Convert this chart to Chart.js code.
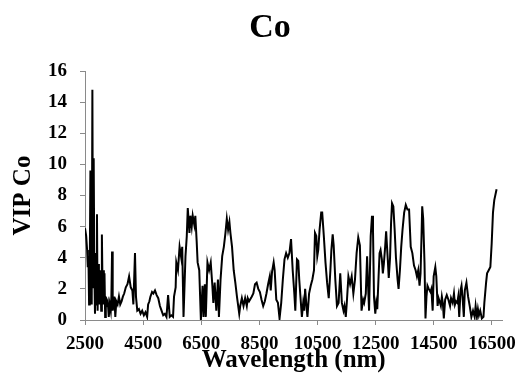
<!DOCTYPE html>
<html><head><meta charset="utf-8">
<script src="https://cdn.jsdelivr.net/npm/chart.js@4/dist/chart.umd.min.js"></script>
<style>html,body{margin:0;padding:0;background:#fff}#wrap{width:524px;height:390px}</style>
</head><body><div id="wrap"><canvas id="c"></canvas></div>
<script>
const wavelengths = [2500,2540,2573,2596,2618,2641,2663,2686,2709,2731,2754,2776,2799,2821,2844,2867,2889,2912,2934,2957,2979,3002,3025,3058,3081,3103,3126,3149,3171,3194,3216,3250,3284,3318,3352,3386,3408,3431,3453,3487,3510,3543,3577,3622,3668,3712,3758,3803,3848,3904,3961,4017,4074,4130,4164,4220,4254,4299,4355,4412,4468,4525,4581,4638,4672,4716,4750,4807,4852,4908,4965,5021,5078,5134,5190,5247,5303,5359,5416,5472,5529,5563,5619,5641,5698,5754,5811,5845,5890,5957,6002,6036,6093,6127,6172,6206,6262,6296,6341,6375,6431,6487,6544,6578,6623,6657,6713,6770,6826,6882,6916,6961,7018,7074,7108,7164,7221,7277,7333,7379,7424,7469,7503,7559,7616,7672,7728,7807,7841,7897,7954,8010,8067,8100,8145,8236,8292,8349,8405,8462,8518,8574,8631,8687,8743,8800,8856,8890,8935,8991,9025,9082,9138,9194,9251,9307,9364,9420,9477,9533,9589,9646,9702,9736,9793,9838,9871,9928,9962,10007,10041,10074,10120,10153,10210,10266,10323,10379,10413,10458,10492,10526,10571,10627,10661,10717,10774,10830,10886,10943,10977,11022,11056,11112,11169,11225,11282,11338,11394,11428,11473,11507,11563,11620,11676,11733,11789,11845,11902,11958,12015,12071,12105,12161,12206,12240,12274,12330,12375,12409,12443,12488,12522,12556,12601,12635,12669,12714,12748,12782,12827,12861,12917,12951,12996,13030,13064,13109,13154,13199,13256,13289,13335,13380,13425,13481,13537,13594,13650,13707,13763,13820,13876,13921,13966,14011,14045,14079,14102,14136,14181,14215,14249,14283,14327,14384,14418,14462,14496,14553,14587,14632,14665,14699,14744,14778,14812,14846,14891,14947,15004,15060,15094,15150,15195,15229,15263,15309,15342,15376,15421,15455,15489,15534,15568,15624,15681,15737,15794,15850,15906,15940,15985,16019,16053,16098,16154,16210,16240,16300,16334,16390,16447,16492,16537,16582,16661];
const vipCo = [5.9,5.4,4.5,3.4,4.1,1.0,3.0,9.6,2.8,1.0,14.8,2.1,10.4,3.2,0.4,4.3,1.0,6.8,0.6,3.6,2.8,1.0,3.2,0.6,5.5,2.1,3.2,1.0,3.0,0.2,1.5,1.0,1.2,0.2,1.0,0.6,1.5,4.4,0.6,1.0,1.5,0.2,1.2,1.0,1.5,1.0,1.2,1.5,1.7,2.1,2.3,2.8,2.1,1.9,1.0,4.3,1.5,0.6,0.7,0.4,0.6,0.3,0.5,0.2,1.0,1.2,1.5,1.8,1.7,1.9,1.6,1.4,0.9,0.6,0.3,0.4,0.2,1.6,0.2,0.3,0.2,1.5,2.1,3.7,3.2,4.7,4.0,4.7,0.2,4.1,5.4,7.2,5.6,6.7,6.0,6.7,6.1,6.7,5.1,3.7,3.2,0.0,2.2,0.2,2.3,0.2,3.7,3.2,3.7,2.2,1.1,2.4,0.6,2.6,0.2,2.6,4.1,4.7,5.6,6.5,5.8,6.3,5.6,4.7,3.2,2.4,1.5,0.4,0.9,1.4,0.9,1.4,0.9,1.4,1.2,1.5,1.7,2.3,2.4,2.0,1.8,1.3,0.9,1.2,1.7,2.3,2.8,1.9,3.1,3.7,3.2,1.3,1.1,0.1,1.1,2.6,3.9,4.3,4.0,4.3,5.2,3.2,1.7,0.6,3.9,3.8,2.6,1.1,0.2,1.1,0.6,2.0,0.9,0.2,1.7,2.2,2.6,3.2,5.6,5.4,4.1,4.5,5.8,6.9,6.9,5.4,3.7,2.4,1.4,3.2,4.5,5.5,4.8,2.6,0.9,1.1,3.0,1.1,0.6,0.9,0.2,1.1,2.8,2.3,2.8,1.7,2.6,4.3,5.3,4.8,0.6,1.3,1.1,1.7,4.1,2.2,0.6,5.4,6.7,5.8,1.5,0.4,1.1,0.7,2.8,4.3,4.5,3.9,3.0,3.6,4.7,5.7,3.9,2.7,4.0,6.2,7.5,7.3,5.8,4.0,2.6,2.0,3.2,4.7,5.8,6.9,7.4,7.1,7.1,4.7,4.3,3.5,3.2,2.8,3.2,2.2,3.0,5.4,7.3,6.5,3.7,0.1,1.5,2.2,2.0,1.8,2.0,0.6,2.8,3.4,2.8,0.9,1.4,1.2,0.9,1.5,1.1,0.1,1.3,1.6,1.3,0.9,1.4,1.1,1.7,1.0,1.2,1.1,1.5,0.2,1.9,2.2,1.5,0.2,1.9,2.4,1.5,0.9,0.2,0.6,0.2,0.9,0.2,0.7,0.3,0.6,0.1,0.2,1.1,2.4,3.0,3.2,3.4,4.9,6.9,7.7,8.4];
const xTicks = [2500,4500,6500,8500,10500,12500,14500,16500];
const yTicks = [0,2,4,6,8,10,12,14,16];
const chartTitle = 'Co';
const xTitle = 'Wavelength (nm)';
const yTitle = 'VIP Co';

const FONT = "'Liberation Serif','Times New Roman',serif";
const axisGray = '#8a8a8a';

const titleShift = {
  id: 'titleShift',
  afterLayout(chart) { if (chart.titleBlock) { chart.titleBlock.left += 30; } }
};

new Chart(document.getElementById('c'), {
  type: 'line',
  data: {
    datasets: [{
      data: wavelengths.map((w, i) => ({x: w, y: vipCo[i]})),
      borderColor: '#000',
      borderWidth: 2,
      pointRadius: 0,
      tension: 0,
      fill: false
    }]
  },
  plugins: [titleShift],
  options: {
    responsive: true,
    maintainAspectRatio: false,
    animation: false,
    layout: {padding: {left: 0, right: 14, top: 0, bottom: 0}},
    plugins: {
      legend: {display: false},
      tooltip: {enabled: false},
      title: {
        display: true,
        text: chartTitle,
        color: '#000',
        font: {family: FONT, size: 34, weight: 'bold', lineHeight: 1.2},
        padding: {top: 8, bottom: 22.2}
      }
    },
    scales: {
      x: {
        type: 'linear',
        min: 2500,
        max: 16860,
        afterBuildTicks: axis => { axis.ticks = xTicks.map(v => ({value: v})); },
        afterFit: axis => { axis.height = 70; },
        grid: {display: true, drawOnChartArea: false, drawTicks: true, tickLength: 5, color: axisGray},
        border: {display: true, color: axisGray, width: 1},
        ticks: {
          color: '#000',
          maxRotation: 0,
          autoSkip: false,
          padding: 8,
          font: {family: FONT, size: 19, weight: 'bold'},
          callback: v => String(v)
        },
        title: {
          display: true,
          text: xTitle,
          color: '#000',
          font: {family: FONT, size: 25, weight: 'bold', lineHeight: 1.2},
          padding: {top: 0, bottom: 14}
        }
      },
      y: {
        min: 0,
        max: 16,
        afterBuildTicks: axis => { axis.ticks = yTicks.map(v => ({value: v})); },
        afterFit: axis => { axis.width = 85; },
        grid: {display: true, drawOnChartArea: false, drawTicks: true, tickLength: 5, color: axisGray},
        border: {display: true, color: axisGray, width: 1},
        ticks: {
          color: '#000',
          padding: 13,
          font: {family: FONT, size: 19, weight: 'bold'}
        },
        title: {
          display: true,
          text: yTitle,
          color: '#000',
          font: {family: FONT, size: 25, weight: 'bold', lineHeight: 1.2},
          padding: {top: 9, bottom: 0}
        }
      }
    }
  }
});
</script>
</body></html>
